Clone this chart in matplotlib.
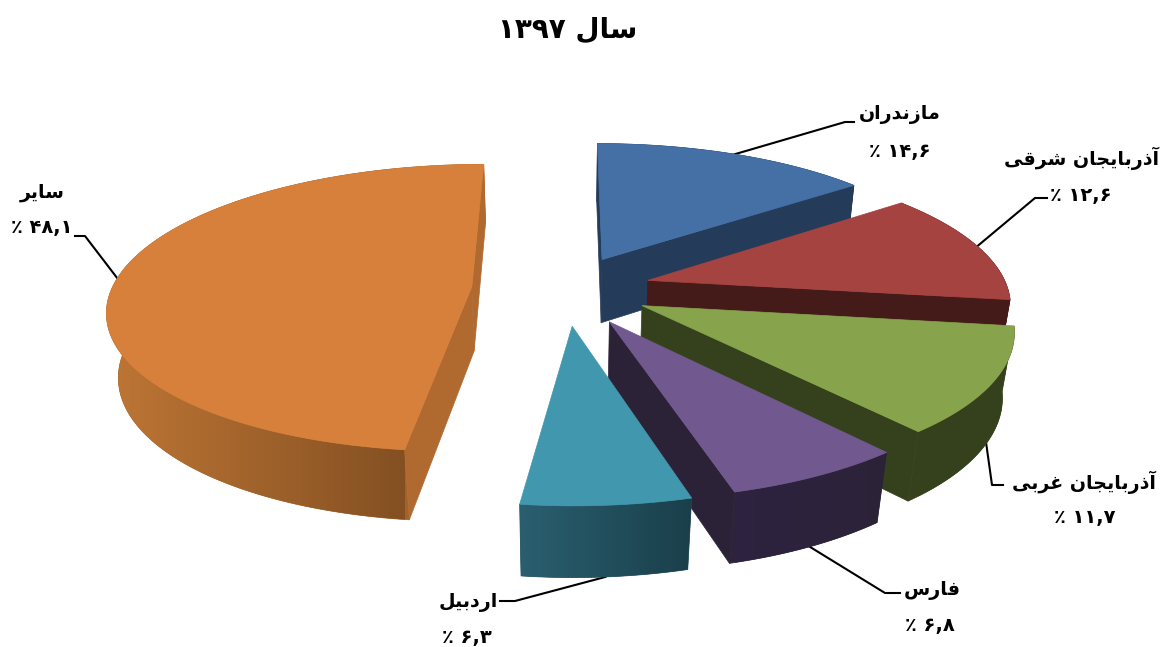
import numpy as np
import matplotlib
matplotlib.use('Agg')
import matplotlib.pyplot as plt
from matplotlib.patches import Polygon

# data
title_word = 'سال'
title_year = 1397
names = ['مازندران', 'آذربایجان شرقی', 'آذربایجان غربی', 'فارس', 'اردبیل', 'سایر']
values = [14.6, 12.6, 11.7, 6.8, 6.3, 48.1]

# colours for each slice
top_colors = ['#4470A5', '#A54341', '#87A44C', '#71588F', '#4197AE', '#D7803B']
side_left = ['#243B5A', '#451B19', '#35411C', '#2E2340', '#2A5F70', '#BE7635']
side_right = ['#243B5A', '#451B19', '#35411C', '#2C2238', '#1A3F4A', '#845022']
cut_colors = ['#243B5A', '#451B19', '#35411C', '#2C2238', '#2C2238', '#B06A2F']

# label layout, in pixels: leader elbow, leader end, name pos, percent pos
elbows = [(845, 122), (1035, 198), (992, 485), (885, 593), (515, 601), (85, 236)]
ends = [(854, 122), (1047, 198), (1003, 485), (900, 593), (500, 601), (75, 236)]
name_pos = [(900, 115), (1082, 158), (1084, 482), (932, 590), (468, 602), (42, 193)]
pct_pos = [(900, 151), (1081, 195), (1085, 517), (930, 625), (467, 637), (42, 228)]
# where on the rim the leader starts: fraction across slice, 0 top face 1 bottom face
leader_frac = [0.5, 0.5, 0.45, 0.5, 0.5, 0.5]
leader_z = [0, 0, 1, 1, 1, 0]

# perspective of the pie
cx, cy = 565, 289
scale_x, scale_y = 360, 141
persp = 0.147
drop_z = 66
persp_z = 0.026
explode = [0.24, 0.24, 0.24, 0.255, 0.255, 0.26]


def project(X, Y, Z=0.0):
    s = 1.0 / (1.0 + persp * Y + persp_z * Z)
    return cx + scale_x * X * s, cy - scale_y * Y * s + drop_z * Z * s


def shape(word):
    # matplotlib does not join arabic letters, so pick the forms by hand
    forms = {
        'ا': (0xFE8D, 0xFE8E), 'آ': (0xFE81, 0xFE82), 'د': (0xFEA9, 0xFEAA), 'ذ': (0xFEAB, 0xFEAC),
        'ر': (0xFEAD, 0xFEAE), 'ز': (0xFEAF, 0xFEB0),
        'ب': (0xFE8F, 0xFE90, 0xFE91, 0xFE92), 'ج': (0xFE9D, 0xFE9E, 0xFE9F, 0xFEA0),
        'س': (0xFEB1, 0xFEB2, 0xFEB3, 0xFEB4), 'ش': (0xFEB5, 0xFEB6, 0xFEB7, 0xFEB8),
        'غ': (0xFECD, 0xFECE, 0xFECF, 0xFED0), 'ف': (0xFED1, 0xFED2, 0xFED3, 0xFED4),
        'ق': (0xFED5, 0xFED6, 0xFED7, 0xFED8), 'ل': (0xFEDD, 0xFEDE, 0xFEDF, 0xFEE0),
        'م': (0xFEE1, 0xFEE2, 0xFEE3, 0xFEE4), 'ن': (0xFEE5, 0xFEE6, 0xFEE7, 0xFEE8),
        'ی': (0xFBFC, 0xFBFD, 0xFBFE, 0xFBFF),
    }
    out = ''
    for i, ch in enumerate(word):
        if ch not in forms:
            out += ch
            continue
        prev = word[i - 1] if i > 0 else ' '
        nxt = word[i + 1] if i < len(word) - 1 else ' '
        before = prev in forms and len(forms[prev]) == 4
        after = nxt in forms and len(forms[ch]) == 4
        if before and after:
            out += chr(forms[ch][3])
        elif before:
            out += chr(forms[ch][1])
        elif after:
            out += chr(forms[ch][2])
        else:
            out += chr(forms[ch][0])
    return out[::-1]


def persian(text):
    return str(text).translate(str.maketrans('0123456789.', '۰۱۲۳۴۵۶۷۸۹,'))


def area(xs, ys):
    return 0.5 * np.sum(xs * np.roll(ys, -1) - np.roll(xs, -1) * ys)


fig = plt.figure(figsize=(11.62, 6.47), dpi=100)
ax = fig.add_axes([0, 0, 1, 1])

plt.rcParams['font.family'] = ['DejaVu Sans']

angles = np.cumsum([0] + values) / np.sum(values) * 2 * np.pi

z = 2
# orange first so that the order matches the overlaps in the picture
for i in [5, 0, 1, 2, 3, 4]:
    a0, a1 = angles[i], angles[i + 1]
    mid = (a0 + a1) / 2
    ox, oy = explode[i] * np.sin(mid), explode[i] * np.cos(mid)
    th = np.linspace(a0, a1, 90)
    rx, ry = ox + np.sin(th), oy + np.cos(th)

    # rim with a left to right gradient, clipped to its outline
    tx, ty = project(rx, ry)
    bx, by = project(rx, ry, 1)
    front = np.cos(th) < 0.1
    if not front.any():
        front = np.ones(len(th), dtype=bool)
    lo, hi = tx[front].min(), tx[front].max()
    outline = np.column_stack([np.r_[tx, bx[::-1]], np.r_[ty, by[::-1]]])
    c1 = np.array(matplotlib.colors.to_rgb(side_left[i]))
    c2 = np.array(matplotlib.colors.to_rgb(side_right[i]))
    t = np.linspace(0, 1, 200)[:, None]
    grad = (c1 + (c2 - c1) * t)[None, :, :]
    ax.fill(outline[:, 0], outline[:, 1], color=(c1 + c2) / 2, lw=0.5, zorder=z)
    z += 1
    im = ax.imshow(grad, extent=(lo, hi, by.max(), ty.min()), aspect='auto', interpolation='bilinear', zorder=z)
    im.set_clip_path(Polygon(outline, transform=ax.transData))
    z += 1

    # the two cut faces, only the ones looking at the camera
    for a, flip in ((a0, 1), (a1, -1)):
        ex, ey = ox + np.sin(a), oy + np.cos(a)
        pts = [project(ox, oy), project(ex, ey), project(ex, ey, 1), project(ox, oy, 1)]
        xs = np.array([p[0] for p in pts])
        ys = np.array([p[1] for p in pts])
        if area(xs, ys) * flip < 0:
            ax.fill(xs, ys, color=cut_colors[i], lw=0.5, zorder=z)
            z += 1

    # top face
    fx, fy = project(np.r_[ox, rx], np.r_[oy, ry])
    ax.fill(fx, fy, color=top_colors[i], lw=0.5, zorder=z)
    z += 1

    # leader line from the rim to the label, goes under the pie
    a = a0 + (a1 - a0) * leader_frac[i]
    sx, sy = project(ox + np.sin(a), oy + np.cos(a), leader_z[i])
    ax.plot([sx, elbows[i][0], ends[i][0]], [sy, elbows[i][1], ends[i][1]],
            color='black', lw=1.5, zorder=1, solid_joinstyle='round')

    ax.text(name_pos[i][0], name_pos[i][1], shape(names[i]), fontsize=13.7, fontweight='bold',
            ha='center', va='center', color='black')
    ax.text(pct_pos[i][0], pct_pos[i][1], '٪ ' + persian(values[i]), fontsize=14, fontweight='bold',
            ha='center', va='center', color='black')

ax.text(568, 30, persian(title_year) + ' ' + shape(title_word), fontsize=20, fontweight='bold',
        ha='center', va='center', color='black')

ax.set_xlim(0, 1162)
ax.set_ylim(647, 0)
ax.axis('off')

plt.savefig('out.png', dpi=100)
